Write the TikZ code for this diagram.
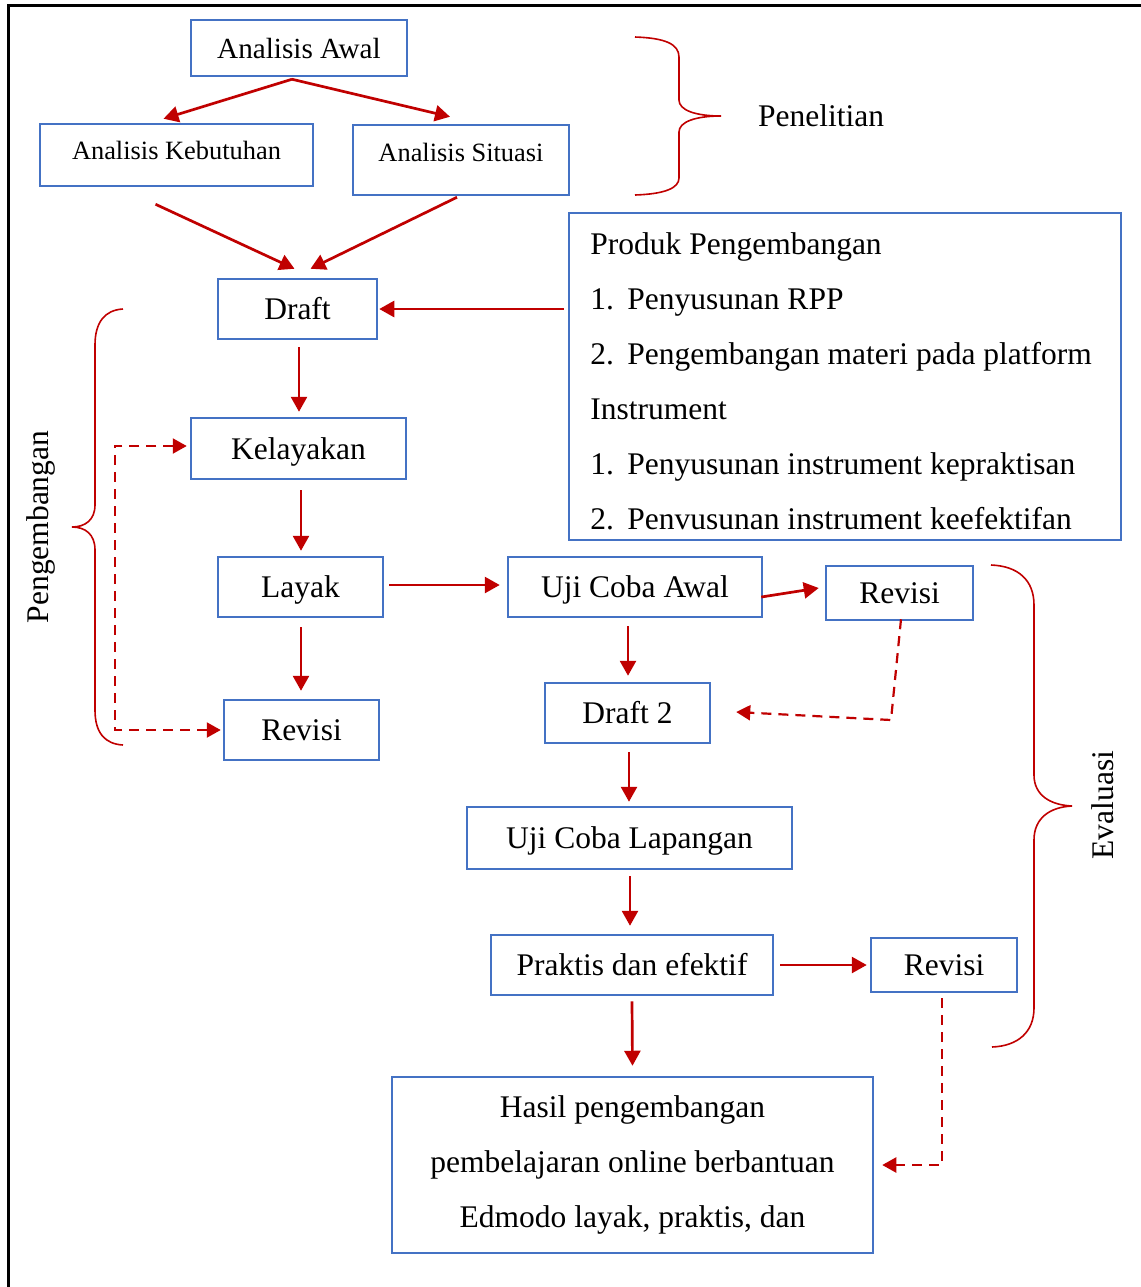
\documentclass[tikz,border=0pt]{standalone}
\usepackage{fontspec}
\setmainfont{Liberation Serif}
\usetikzlibrary{arrows.meta,calc}
\definecolor{boxblue}{RGB}{68,114,196}
\definecolor{flowred}{RGB}{192,0,0}
\newcommand{\mainfs}{\fontsize{15.75}{27.5}\selectfont}
\newcommand{\awalfs}{\fontsize{14.6}{17}\selectfont}
\newcommand{\smallfs}{\fontsize{13.2}{16}\selectfont}
\begin{document}
\begin{tikzpicture}[x=0.5pt,y=-0.5pt]
\tikzstyle{flowbase} = [rectangle, draw=boxblue, line width=1.25pt, inner sep=0pt, text centered, font=\mainfs]
\tikzstyle{flowbox} = [flowbase, text height=10.8pt, text depth=0pt]
\tikzstyle{arrowred} = [draw=flowred, line width=1.35pt, -{Triangle[length=7.5pt,width=8pt]}]
\tikzstyle{dasharrow} = [draw=flowred, line width=1.1pt, dash pattern=on 5pt off 3.5pt, -{Triangle[length=7pt,width=7.5pt]}]
\tikzstyle{bracered} = [draw=flowred, line width=0.8pt]
\useasboundingbox (0,0) rectangle (1141,1287);
% frame
\draw[line width=1.5pt] (8,1287) -- (8,5) -- (1141,5);
% boxes
\node (awal)[flowbox, font=\awalfs, text height=10pt, minimum width=108pt, minimum height=28pt] at (299,48) {Analisis Awal};
\node (keb)[flowbase, font=\smallfs, minimum width=136.5pt, minimum height=31pt, text height=9pt, text depth=5pt] at (176.5,155) {Analisis Kebutuhan};
\node (sit)[flowbase, font=\smallfs, minimum width=108pt, minimum height=35pt, text height=9pt, text depth=8pt] at (461,160) {Analisis Situasi};
\node (draft)[flowbox, minimum width=79.5pt, minimum height=30pt] at (297.5,309) {Draft};
\node (prod)[flowbase, minimum width=276pt, minimum height=163.5pt] at (845,376.5) {};
\node (prodtext)[anchor=north west, inner sep=0pt, align=left, font=\mainfs] at (590,232.5) {Produk Pengembangan\\
\makebox[18.5pt][l]{1.}Penyusunan RPP\\
\makebox[18.5pt][l]{2.}Pengembangan materi pada platform\\
Instrument\\
\makebox[18.5pt][l]{1.}Penyusunan instrument kepraktisan\\
\makebox[18.5pt][l]{2.}Penvusunan instrument keefektifan};
\node (kel)[flowbox, minimum width=107.5pt, minimum height=30.5pt] at (298.5,448.5) {Kelayakan};
\node (layak)[flowbox, minimum width=82.5pt, minimum height=30pt] at (300.5,587) {Layak};
\node (rev1)[flowbox, minimum width=77.5pt, minimum height=30pt] at (301.5,730) {Revisi};
\node (ujiawal)[flowbox, minimum width=127pt, minimum height=30pt] at (635,587) {Uji Coba Awal};
\node (rev2)[flowbox, minimum width=73.5pt, minimum height=27pt] at (899.5,593) {Revisi};
\node (draft2)[flowbox, minimum width=82.5pt, minimum height=30pt] at (627.5,713) {Draft 2};
\node (ujilap)[flowbox, minimum width=162.5pt, minimum height=31pt] at (629.5,838) {Uji Coba Lapangan};
\node (praktis)[flowbox, minimum width=141pt, minimum height=30pt] at (632,965) {Praktis dan efektif};
\node (rev3)[flowbox, minimum width=73pt, minimum height=27pt] at (944,965) {Revisi};
\node (hasil)[flowbase, align=center, minimum width=240.5pt, minimum height=88pt] at (632.5,1165) {Hasil pengembangan\\ pembelajaran online berbantuan\\ Edmodo layak, praktis, dan};
% labels
\node (penelitian)[font=\mainfs] at (821,116) {Penelitian};
\node (pengembangan)[font=\mainfs, rotate=90] at (41,527) {Pengembangan};
\node (evaluasi)[font=\mainfs, rotate=90] at (1103,805) {Evaluasi};
% braces
\draw[bracered] (635,37) .. controls (665,38) and (679,44) .. (679,57) -- (679,100) .. controls (679,110) and (695,116) .. (721,116) .. controls (695,116) and (679,122) .. (679,132) -- (679,178) .. controls (679,188) and (665,194) .. (635,195);
\draw[bracered] (123,309) .. controls (105,310) and (95,322) .. (95,345) -- (95,505) .. controls (95,520) and (85,527) .. (72,527) .. controls (85,527) and (95,534) .. (95,550) -- (95,710) .. controls (95,733) and (105,744) .. (123,745);
\draw[bracered] (991,565) .. controls (1018,566) and (1034,580) .. (1034,605) -- (1034,775) .. controls (1034,795) and (1050,805) .. (1072,806) .. controls (1050,807) and (1034,818) .. (1034,840) -- (1034,1008) .. controls (1034,1032) and (1018,1046) .. (992,1047);
% arrows
\draw [arrowred] ($(awal.south)+(-7,2)$) -- ($(keb.north)+(-13,-4)$);
\draw [arrowred] ($(awal.south)+(-7,2)$) -- ($(sit.north)+(-11,-7)$);
\draw [arrowred] ($(keb.south)+(-21,17)$) -- ($(draft.north)+(-3,-9)$);
\draw [arrowred] ($(sit.south)+(-4,1)$) -- ($(draft.north)+(13,-9)$);
\draw [arrowred] ($(prod.west |- draft.east)+(-4,0)$) -- ($(draft.east)+(1,0)$);
\draw [arrowred] ($(draft.south)+(1.5,7)$) -- ($(kel.north)+(0.5,-5)$);
\draw [arrowred] ($(kel.south)+(2.5,10)$) -- ($(layak.north)+(0.5,-5)$);
\draw [arrowred] ($(layak.south)+(0.5,9)$) -- ($(rev1.north)+(-0.5,-8)$);
\draw [arrowred] ($(layak.east)+(5,-2)$) -- ($(ujiawal.west)+(-7,-2)$);
\draw [arrowred] ($(ujiawal.east)+(-2,10)$) -- ($(rev2.west)+(-6,-5)$);
\draw [arrowred] ($(ujiawal.south)+(-7,8)$) -- ($(draft2.north)+(0.5,-6)$);
\draw [arrowred] ($(draft2.south)+(1.5,8)$) -- ($(ujilap.north)+(-0.5,-4)$);
\draw [arrowred] ($(ujilap.south)+(0.5,6)$) -- ($(praktis.north)+(-2,-8)$);
\draw [arrowred] ($(praktis.east)+(6,0)$) -- ($(rev3.west)+(-3,0)$);
\draw [arrowred] ($(praktis.south)+(0,5)$) -- ($(hasil.north)+(0,-10)$);
% dashed feedback
\draw [dasharrow, {Triangle[length=7pt,width=7.5pt]}-{Triangle[length=7pt,width=7.5pt]}] ($(kel.west)+(-3,-2.5)$) -- ++(-72,0) |- ($(rev1.west)+(-2,0)$);
\coordinate (r2bend) at (891,720);
\draw [dasharrow] ($(rev2.south)+(1.5,-2)$) -- (r2bend) -- ($(draft2.east)+(25,-1)$);
\draw [dasharrow] ($(rev3.south)+(-2,5)$) |- ($(hasil.east)+(8,0)$);
\end{tikzpicture}
\end{document}
